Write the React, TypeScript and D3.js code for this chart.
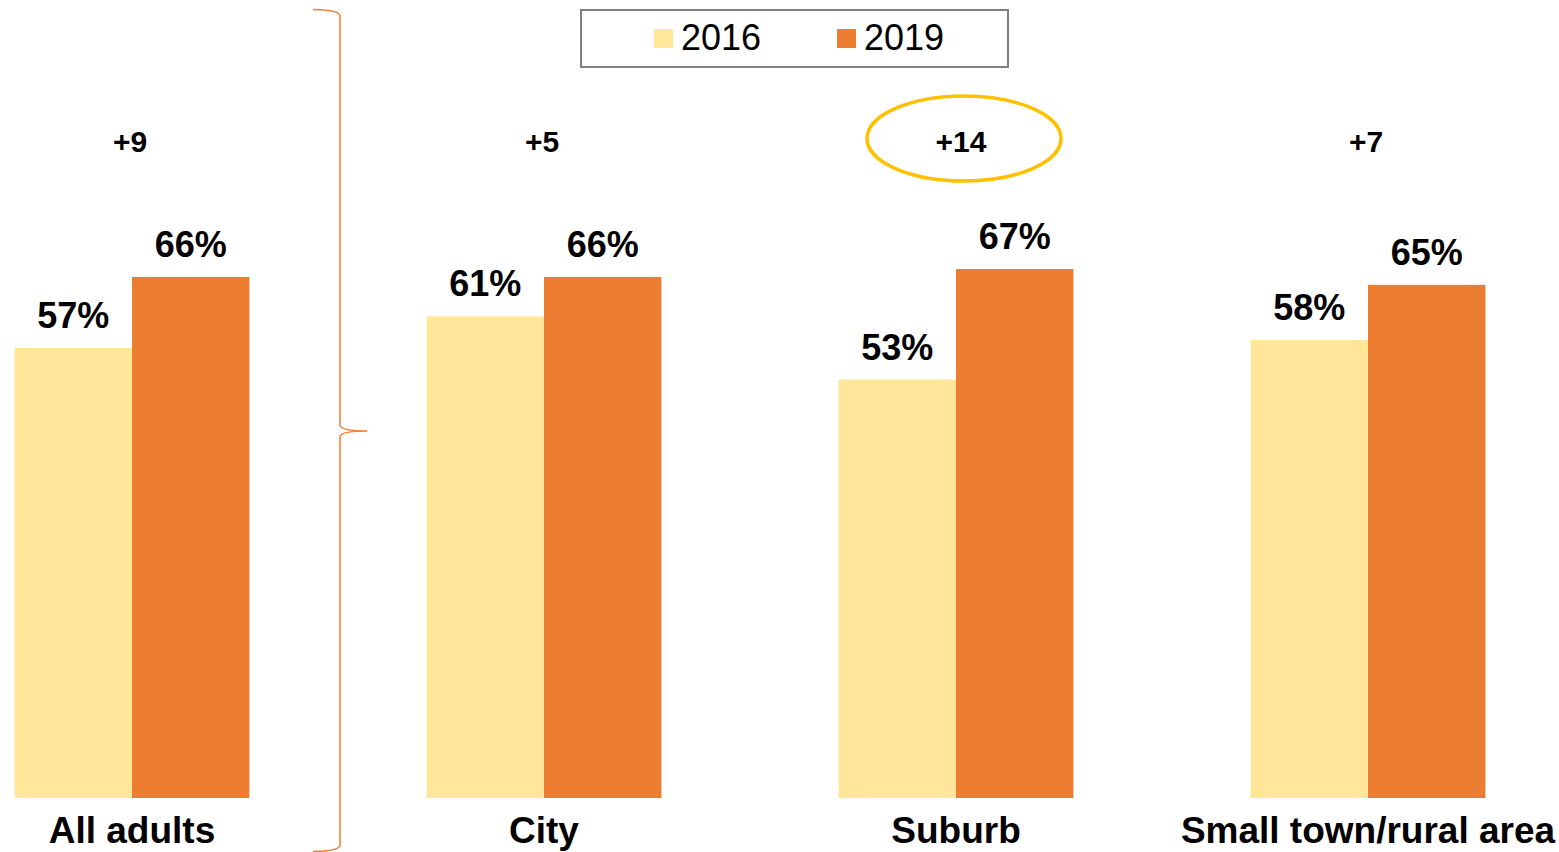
import React, { useEffect, useRef } from "react";
import * as d3 from "d3";

const categories = ["All adults", "City", "Suburb", "Small town/rural area"];
const years = ["2016", "2019"];
const values2016 = [57, 61, 53, 58];
const values2019 = [66, 66, 67, 65];
const changeLabels = ["+9", "+5", "+14", "+7"];
const highlighted = "Suburb";

const colors: Record<string, string> = { "2016": "#FFE699", "2019": "#ED7D31" };

const width = 1559;
const height = 852;

export default function App() {
  const ref = useRef<SVGSVGElement | null>(null);

  useEffect(() => {
    const svg = d3.select(ref.current);
    svg.selectAll("*").remove();

    const font = "'Liberation Sans', Arial, sans-serif";

    const x = d3
      .scaleBand()
      .domain(categories)
      .range([-74, 1574])
      .paddingInner(0.43)
      .paddingOuter(0.215);

    const xInner = d3.scaleBand().domain(years).range([0, x.bandwidth()]).padding(0);

    const y = d3.scaleLinear().domain([0, 100]).range([798, 8.5]);

    const rows = categories.map((c, i) => ({
      category: c,
      vals: [
        { year: "2016", value: values2016[i] },
        { year: "2019", value: values2019[i] }
      ],
      change: changeLabels[i]
    }));

    const groups = svg
      .selectAll("g.group")
      .data(rows)
      .join("g")
      .attr("class", "group")
      .attr("transform", (d) => `translate(${x(d.category)},0)`);

    groups
      .selectAll("rect")
      .data((d) => d.vals)
      .join("rect")
      .attr("x", (d) => xInner(d.year)!)
      .attr("width", xInner.bandwidth())
      .attr("y", (d) => y(d.value))
      .attr("height", (d) => y(0) - y(d.value))
      .attr("fill", (d) => colors[d.year]);

    // value labels
    groups
      .selectAll("text.val")
      .data((d) => d.vals)
      .join("text")
      .attr("class", "val")
      .attr("x", (d) => xInner(d.year)! + xInner.bandwidth() / 2)
      .attr("y", (d) => y(d.value) - 20)
      .attr("text-anchor", "middle")
      .attr("font-family", font)
      .attr("font-weight", "bold")
      .attr("font-size", 36)
      .attr("fill", "#000")
      .text((d) => d.value + "%");

    // category labels
    groups
      .append("text")
      .attr("x", x.bandwidth() / 2)
      .attr("y", 843)
      .attr("text-anchor", "middle")
      .attr("font-family", font)
      .attr("font-weight", "bold")
      .attr("font-size", 37)
      .attr("fill", "#000")
      .text((d) => d.category);

    // change labels
    groups
      .append("text")
      .attr("x", (d) => x.bandwidth() / 2 + (d.category === highlighted ? 5 : -2))
      .attr("y", 152)
      .attr("text-anchor", "middle")
      .attr("font-family", font)
      .attr("font-weight", "bold")
      .attr("font-size", 30)
      .attr("fill", "#000")
      .text((d) => d.change);

    // highlight ellipse
    svg
      .append("ellipse")
      .attr("cx", x(highlighted)! + x.bandwidth() / 2 + 8)
      .attr("cy", 138.5)
      .attr("rx", 97)
      .attr("ry", 42.5)
      .attr("fill", "none")
      .attr("stroke", "#FFC000")
      .attr("stroke-width", 3.5);

    // brace separating "All adults"
    const bx = 340;
    const brace = d3.path();
    brace.moveTo(313, 9.5);
    brace.quadraticCurveTo(bx, 10, bx, 16);
    brace.lineTo(bx, 425);
    brace.quadraticCurveTo(bx, 431, 367, 431);
    brace.quadraticCurveTo(bx, 431, bx, 437);
    brace.lineTo(bx, 845);
    brace.quadraticCurveTo(bx, 851, 313, 851.5);
    svg
      .append("path")
      .attr("d", brace.toString())
      .attr("fill", "none")
      .attr("stroke", "#ED7D31")
      .attr("stroke-width", 1.5);

    // legend
    const legend = svg.append("g");
    legend
      .append("rect")
      .attr("x", 581)
      .attr("y", 10)
      .attr("width", 427)
      .attr("height", 57)
      .attr("fill", "#fff")
      .attr("stroke", "#808080")
      .attr("stroke-width", 2);

    const legendX = d3.scaleOrdinal<string, number>().domain(years).range([654, 837]);
    const items = legend
      .selectAll("g.item")
      .data(years)
      .join("g")
      .attr("class", "item")
      .attr("transform", (d) => `translate(${legendX(d)},0)`);
    items
      .append("rect")
      .attr("x", 0)
      .attr("y", 29)
      .attr("width", 19)
      .attr("height", 19)
      .attr("fill", (d) => colors[d]);
    items
      .append("text")
      .attr("x", 27)
      .attr("y", 50)
      .attr("font-family", font)
      .attr("font-size", 36)
      .attr("fill", "#000")
      .text((d) => d);
  }, []);

  return (
    <svg
      ref={ref}
      width={width}
      height={height}
      style={{ position: "absolute", left: 0, top: 0, background: "#fff", display: "block" }}
    />
  );
}
